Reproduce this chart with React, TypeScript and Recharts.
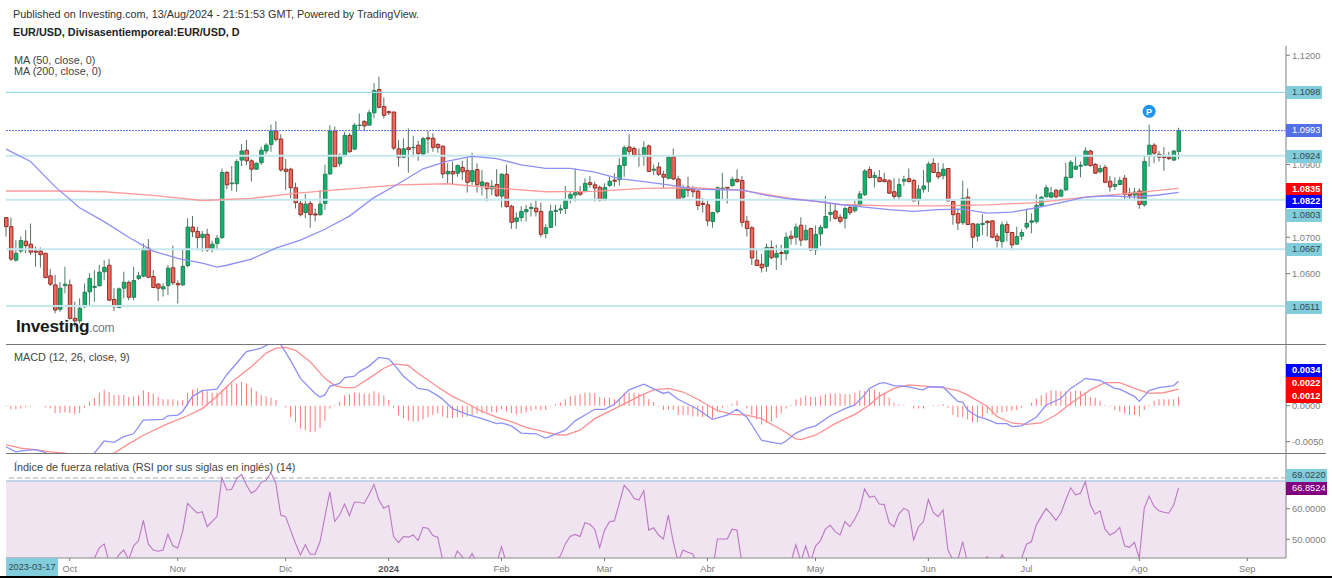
import React from 'react';
import {
    Bar,
    Cell,
    ComposedChart,
    Line,
    ReferenceArea,
    ReferenceDot,
    ReferenceLine,
    XAxis,
    YAxis,
} from 'recharts';

const FONT = '"Liberation Sans", Arial, sans-serif';
const WIDTH = 1332;
const X_DOMAIN: [number, number] = [0, 260.9];

// EUR/USD daily candles
const opens = [
    1.0754,1.0729,1.0637,1.0662,1.0689,1.0681,1.0662,1.0662,1.0656,1.0594,
    1.0569,1.0502,1.0567,1.0569,1.0477,1.0470,1.0509,1.0550,1.0562,1.0567,
    1.0605,1.0623,1.0529,1.0507,1.0560,1.0576,1.0535,1.0587,1.0593,1.0670,
    1.0592,1.0571,1.0558,1.0567,1.0616,1.0573,1.0569,1.0622,1.0728,1.0716,
    1.0699,1.0708,1.0668,1.0683,1.0699,1.0878,1.0847,1.0847,1.0912,1.0939,
    1.0910,1.0887,1.0905,1.0937,1.0955,1.0992,1.0970,1.0887,1.0887,1.0836,
    1.0793,1.0768,1.0793,1.0764,1.0762,1.0793,1.0874,1.0992,1.0902,1.0923,
    1.0980,1.0942,1.1007,1.1018,1.1008,1.1042,1.1106,1.1059,1.1045,1.1044,
    1.0943,1.0920,1.0946,1.0946,1.0953,1.0929,1.0973,1.0972,1.0955,1.0950,
    1.0874,1.0881,1.0876,1.0892,1.0883,1.0853,1.0886,1.0842,1.0849,1.0833,
    1.0845,1.0813,1.0873,1.0785,1.0743,1.0754,1.0770,1.0779,1.0780,1.0771,
    1.0710,1.0727,1.0771,1.0775,1.0779,1.0807,1.0816,1.0825,1.0826,1.0850,
    1.0844,1.0837,1.0803,1.0842,1.0857,1.0858,1.0897,1.0948,1.0944,1.0926,
    1.0923,1.0951,1.0884,1.0893,1.0873,1.0862,1.0921,1.0860,1.0810,1.0838,
    1.0833,1.0827,1.0793,1.0789,1.0743,1.0770,1.0833,1.0837,1.0842,1.0859,
    1.0856,1.0744,1.0726,1.0637,1.0626,1.0620,1.0672,1.0645,1.0658,1.0655,
    1.0703,1.0700,1.0733,1.0693,1.0724,1.0665,1.0709,1.0726,1.0763,1.0772,
    1.0755,1.0752,1.0782,1.0773,1.0789,1.0817,1.0886,1.0864,1.0864,1.0858,
    1.0855,1.0825,1.0812,1.0854,1.0861,1.0856,1.0802,1.0832,1.0852,1.0903,
    1.0878,1.0869,1.0889,1.0798,1.0765,1.0740,1.0810,1.0737,1.0703,1.0735,
    1.0744,1.0745,1.0703,1.0688,1.0735,1.0713,1.0681,1.0703,1.0728,1.0741,
    1.0743,1.0787,1.0811,1.0810,1.0829,1.0813,1.0830,1.0864,1.0887,1.0895,
    1.0898,1.0937,1.0900,1.0880,1.0892,1.0854,1.0840,1.0845,1.0862,1.0821,
    1.0816,1.0827,1.0789,1.0923,1.0953,1.0928,1.0921,1.0920,1.0912,1.0936,
];
const closes = [
    1.0729,1.0640,1.0656,1.0691,1.0677,1.0659,1.0659,1.0652,1.0589,1.0571,
    1.0500,1.0560,1.0571,1.0477,1.0470,1.0505,1.0549,1.0587,1.0565,1.0604,
    1.0617,1.0527,1.0509,1.0558,1.0576,1.0535,1.0581,1.0594,1.0668,1.0590,
    1.0562,1.0560,1.0564,1.0615,1.0575,1.0569,1.0620,1.0728,1.0715,1.0699,
    1.0708,1.0665,1.0681,1.0697,1.0878,1.0844,1.0849,1.0908,1.0937,1.0910,
    1.0887,1.0903,1.0939,1.0953,1.0992,1.0969,1.0885,1.0881,1.0836,1.0795,
    1.0762,1.0791,1.0762,1.0761,1.0791,1.0873,1.0992,1.0894,1.0921,1.0980,
    1.0935,1.1008,1.1008,1.1006,1.1042,1.1103,1.1057,1.1035,1.1042,1.0945,
    1.0920,1.0943,1.0941,1.0947,1.0930,1.0971,1.0970,1.0947,1.0946,1.0874,
    1.0881,1.0874,1.0897,1.0880,1.0851,1.0883,1.0844,1.0852,1.0833,1.0840,
    1.0814,1.0873,1.0784,1.0741,1.0753,1.0771,1.0776,1.0782,1.0770,1.0708,
    1.0726,1.0771,1.0774,1.0778,1.0802,1.0818,1.0823,1.0818,1.0848,1.0845,
    1.0835,1.0802,1.0837,1.0854,1.0854,1.0897,1.0946,1.0936,1.0926,1.0924,
    1.0946,1.0881,1.0887,1.0873,1.0865,1.0920,1.0860,1.0804,1.0836,1.0829,
    1.0825,1.0787,1.0790,1.0745,1.0768,1.0836,1.0835,1.0835,1.0859,1.0853,
    1.0741,1.0724,1.0643,1.0622,1.0616,1.0672,1.0644,1.0655,1.0655,1.0700,
    1.0697,1.0728,1.0692,1.0719,1.0665,1.0708,1.0727,1.0757,1.0768,1.0752,
    1.0744,1.0779,1.0768,1.0789,1.0819,1.0882,1.0864,1.0870,1.0853,1.0853,
    1.0821,1.0812,1.0845,1.0859,1.0853,1.0800,1.0832,1.0841,1.0901,1.0878,
    1.0866,1.0887,1.0800,1.0762,1.0739,1.0807,1.0735,1.0700,1.0736,1.0738,
    1.0740,1.0700,1.0691,1.0734,1.0713,1.0679,1.0702,1.0713,1.0738,1.0745,
    1.0787,1.0810,1.0836,1.0822,1.0811,1.0829,1.0865,1.0906,1.0895,1.0898,
    1.0937,1.0897,1.0876,1.0889,1.0851,1.0838,1.0845,1.0856,1.0818,1.0815,
    1.0824,1.0790,1.0908,1.0953,1.0931,1.0920,1.0919,1.0916,1.0937,1.0993,
];
const highs = [
    1.0754,1.0754,1.0692,1.0702,1.0720,1.0738,1.0674,1.0672,1.0656,1.0613,
    1.0596,1.0578,1.0619,1.0584,1.0523,1.0532,1.0573,1.0601,1.0610,1.0624,
    1.0637,1.0640,1.0560,1.0562,1.0605,1.0581,1.0619,1.0605,1.0683,1.0695,
    1.0610,1.0575,1.0573,1.0624,1.0677,1.0582,1.0667,1.0752,1.0758,1.0729,
    1.0717,1.0723,1.0690,1.0706,1.0889,1.0882,1.0896,1.0914,1.0956,1.0967,
    1.0914,1.0906,1.0949,1.0958,1.1010,1.1019,1.0983,1.0915,1.0891,1.0850,
    1.0804,1.0819,1.0800,1.0779,1.0830,1.0899,1.1008,1.1004,1.0931,1.0990,
    1.0986,1.1013,1.1040,1.1022,1.1050,1.1123,1.1141,1.1084,1.1048,1.1045,
    1.0967,1.0972,1.0999,1.0979,1.0965,1.0976,1.0992,1.0986,1.0958,1.0953,
    1.0903,1.0908,1.0900,1.0910,1.0917,1.0932,1.0903,1.0885,1.0851,1.0857,
    1.0887,1.0876,1.0899,1.0789,1.0768,1.0786,1.0789,1.0795,1.0802,1.0795,
    1.0736,1.0789,1.0789,1.0789,1.0841,1.0828,1.0889,1.0841,1.0862,1.0868,
    1.0853,1.0842,1.0848,1.0866,1.0876,1.0917,1.0953,1.0983,1.0949,1.0944,
    1.0964,1.0955,1.0900,1.0906,1.0883,1.0923,1.0944,1.0869,1.0844,1.0866,
    1.0841,1.0830,1.0807,1.0800,1.0770,1.0839,1.0877,1.0837,1.0866,1.0887,
    1.0868,1.0758,1.0730,1.0668,1.0654,1.0683,1.0691,1.0680,1.0679,1.0713,
    1.0718,1.0738,1.0755,1.0734,1.0726,1.0732,1.0734,1.0814,1.0791,1.0790,
    1.0764,1.0784,1.0789,1.0800,1.0827,1.0887,1.0894,1.0880,1.0885,1.0877,
    1.0860,1.0862,1.0862,1.0869,1.0889,1.0860,1.0844,1.0885,1.0908,1.0917,
    1.0905,1.0903,1.0889,1.0800,1.0779,1.0855,1.0834,1.0738,1.0738,1.0764,
    1.0747,1.0747,1.0711,1.0743,1.0743,1.0715,1.0729,1.0722,1.0778,1.0766,
    1.0818,1.0813,1.0844,1.0839,1.0833,1.0833,1.0905,1.0912,1.0924,1.0908,
    1.0947,1.0940,1.0905,1.0899,1.0899,1.0868,1.0865,1.0866,1.0871,1.0836,
    1.0836,1.0834,1.0926,1.1010,1.0958,1.0937,1.0947,1.0935,1.0940,1.1001,
];
const lows = [
    1.0702,1.0635,1.0633,1.0656,1.0656,1.0651,1.0619,1.0617,1.0587,1.0566,
    1.0491,1.0495,1.0546,1.0474,1.0454,1.0463,1.0505,1.0509,1.0523,1.0564,
    1.0582,1.0526,1.0497,1.0505,1.0532,1.0527,1.0527,1.0582,1.0590,1.0587,
    1.0560,1.0525,1.0537,1.0541,1.0569,1.0518,1.0567,1.0617,1.0700,1.0665,
    1.0660,1.0660,1.0658,1.0667,1.0695,1.0832,1.0828,1.0825,1.0896,1.0898,
    1.0853,1.0885,1.0899,1.0929,1.0935,1.0963,1.0880,1.0830,1.0807,1.0779,
    1.0757,1.0752,1.0726,1.0743,1.0759,1.0775,1.0871,1.0892,1.0894,1.0921,
    1.0932,1.0940,1.0993,1.0992,1.1008,1.1027,1.1054,1.1027,1.1036,1.0940,
    1.0894,1.0917,1.0877,1.0920,1.0910,1.0923,1.0931,1.0935,1.0932,1.0862,
    1.0846,1.0846,1.0866,1.0857,1.0823,1.0844,1.0823,1.0815,1.0798,1.0816,
    1.0811,1.0782,1.0782,1.0723,1.0723,1.0743,1.0743,1.0757,1.0757,1.0700,
    1.0697,1.0727,1.0731,1.0764,1.0764,1.0793,1.0798,1.0813,1.0823,1.0837,
    1.0798,1.0798,1.0800,1.0839,1.0839,1.0842,1.0866,1.0923,1.0920,1.0894,
    1.0896,1.0879,1.0871,1.0868,1.0834,1.0859,1.0857,1.0802,1.0804,1.0811,
    1.0810,1.0775,1.0768,1.0731,1.0726,1.0766,1.0804,1.0793,1.0839,1.0850,
    1.0729,1.0702,1.0624,1.0621,1.0603,1.0605,1.0640,1.0610,1.0624,1.0637,
    1.0679,1.0679,1.0676,1.0691,1.0662,1.0651,1.0676,1.0724,1.0743,1.0749,
    1.0738,1.0724,1.0761,1.0768,1.0784,1.0813,1.0862,1.0837,1.0851,1.0851,
    1.0819,1.0805,1.0805,1.0841,1.0850,1.0798,1.0787,1.0822,1.0825,1.0877,
    1.0860,1.0859,1.0798,1.0734,1.0720,1.0734,1.0734,1.0670,1.0688,1.0706,
    1.0702,1.0697,1.0672,1.0671,1.0688,1.0667,1.0679,1.0692,1.0722,1.0711,
    1.0738,1.0784,1.0810,1.0807,1.0807,1.0811,1.0828,1.0862,1.0885,1.0865,
    1.0896,1.0894,1.0874,1.0876,1.0848,1.0825,1.0830,1.0844,1.0804,1.0802,
    1.0800,1.0778,1.0784,1.0894,1.0903,1.0908,1.0883,1.0912,1.0910,1.0914,
];

// moving averages, read at the bar numbers in the *Bars arrays
const ma50Bars = [0,5,10,15,20,25,30,35,40,43,45,50,55,60,65,70,75,80,85,90,95,100,105,110,115,120,125,130,135,140,145,150,155,160,165,170,175,180,185,190,195,200,205,210,215,220,225,230,235,239];
const ma50 = [1.0942,1.0908,1.0839,1.0781,1.0743,1.0700,1.0662,1.0642,1.0629,1.0618,1.0623,1.0640,1.0670,1.0692,1.0722,1.0758,1.0809,1.0847,1.0888,1.0909,1.0922,1.0916,1.0899,1.0889,1.0889,1.0879,1.0861,1.0853,1.0844,1.0833,1.0830,1.0830,1.0815,1.0805,1.0799,1.0790,1.0783,1.0776,1.0771,1.0776,1.0777,1.0766,1.0769,1.0781,1.0795,1.0810,1.0814,1.0810,1.0816,1.0823];
const ma200Bars = [0,10,20,30,40,50,60,70,80,90,100,110,120,130,140,150,160,170,180,190,200,210,220,230,239];
const ma200 = [1.0827,1.0827,1.0825,1.0815,1.0801,1.0807,1.0822,1.0833,1.0844,1.0847,1.0835,1.0825,1.0826,1.0834,1.0836,1.0829,1.0807,1.0790,1.0786,1.0786,1.0789,1.0795,1.0810,1.0822,1.0834];

// MACD (12, 26, close, 9)
const macdBars = [
    0,2,4,6,8,10,13,17,18,20,22,24,26,28,32,33,35,36,38,40,43,45,47,49,52,54,56,58,60,63,64,65,66,68,69,71,72,74,76,78,79,81,84,86,88,
    89,91,94,97,100,101,103,105,108,110,114,116,120,122,124,127,130,134,135,137,141,144,147,149,151,154,157,158,159,161,163,165,168,171,173,175,176,178,
    179,181,183,184,186,187,188,191,194,195,196,198,200,202,204,205,207,210,212,215,217,219,220,223,226,227,230,231,233,235,238,239,
];
const macdLine = [
    -0.0057,-0.0064,-0.0062,-0.0061,-0.0065,-0.0072,-0.0078,-0.0069,-0.0066,-0.0049,-0.0051,-0.0043,-0.0039,-0.0020,-0.0019,-0.0014,-0.0013,-0.0008,0.0013,0.0021,0.0023,0.0043,0.0059,0.0075,0.0080,0.0087,0.0085,0.0063,0.0038,0.0017,0.0012,0.0015,0.0027,0.0031,0.0039,0.0041,0.0047,0.0055,0.0067,0.0065,0.0058,0.0041,0.0024,0.0022,0.0014,
    0.0009,-0.0004,-0.0012,-0.0018,-0.0025,-0.0024,-0.0028,-0.0038,-0.0039,-0.0045,-0.0034,-0.0021,-0.0005,-0.0005,0.0002,0.0022,0.0030,0.0017,0.0019,0.0009,-0.0005,-0.0019,-0.0013,-0.0005,-0.0016,-0.0048,-0.0052,-0.0053,-0.0049,-0.0038,-0.0032,-0.0028,-0.0014,-0.0004,0.0001,0.0015,0.0024,0.0031,
    0.0032,0.0028,0.0027,0.0026,0.0023,0.0022,0.0026,0.0026,0.0006,0.0005,-0.0006,-0.0015,-0.0019,-0.0025,-0.0025,-0.0029,-0.0028,-0.0016,0.0001,0.0010,0.0024,0.0033,0.0038,0.0035,0.0024,0.0023,0.0013,0.0006,0.0021,0.0025,0.0028,0.0034,
];
const signalBars = [
    0,3,6,9,12,16,22,25,28,33,37,40,43,46,50,53,55,57,59,62,65,67,69,71,74,77,79,82,84,88,
    91,94,97,100,103,106,109,112,114,117,120,125,129,132,135,138,141,145,148,151,154,158,161,162,165,169,173,176,178,
    181,184,186,191,194,196,200,202,205,208,211,214,217,221,224,227,230,233,236,239,
];
const signalLine = [
    -0.0054,-0.0059,-0.0061,-0.0064,-0.0066,-0.0072,-0.0066,-0.0053,-0.0041,-0.0025,-0.0014,-0.0004,0.0013,0.0033,0.0054,0.0073,0.0080,0.0081,0.0077,0.0061,0.0038,0.0028,0.0025,0.0025,0.0038,0.0052,0.0058,0.0056,0.0045,0.0026,
    0.0013,0.0003,-0.0008,-0.0016,-0.0022,-0.0030,-0.0035,-0.0040,-0.0041,-0.0034,-0.0018,-0.0001,0.0013,0.0022,0.0024,0.0019,0.0009,-0.0007,-0.0012,-0.0013,-0.0018,-0.0033,-0.0046,-0.0047,-0.0041,-0.0025,-0.0012,0.0001,0.0013,
    0.0024,0.0029,0.0028,0.0025,0.0021,0.0015,-0.0001,-0.0015,-0.0024,-0.0026,-0.0024,-0.0013,0.0003,0.0022,0.0032,0.0032,0.0024,0.0017,0.0018,0.0023,
];
const macdHist = [
    -0.0001,-0.0005,-0.0005,-0.0004,-0.0002,-0.0001,0,0,-0.0002,-0.0004,
    -0.0010,-0.0010,-0.0009,-0.0010,-0.0012,-0.0010,-0.0003,0.0006,0.0011,0.0018,
    0.0022,0.0019,0.0015,0.0015,0.0015,0.0012,0.0013,0.0014,0.0021,0.0019,
    0.0017,0.0012,0.0009,0.0009,0.0009,0.0007,0.0008,0.0018,0.0022,0.0024,
    0.0022,0.0020,0.0018,0.0018,0.0022,0.0027,0.0031,0.0031,0.0033,0.0031,
    0.0025,0.0020,0.0015,0.0013,0.0011,0.0008,0,-0.0002,-0.0016,-0.0023,
    -0.0032,-0.0034,-0.0037,-0.0036,-0.0031,-0.0021,-0.0004,0.0001,0.0006,0.0014,
    0.0016,0.0018,0.0018,0.0017,0.0017,0.0020,0.0018,0.0014,0.0008,-0.0003,
    -0.0013,-0.0017,-0.0021,-0.0022,-0.0022,-0.0019,-0.0016,-0.0013,-0.0011,-0.0015,
    -0.0017,-0.0017,-0.0016,-0.0016,-0.0015,-0.0013,-0.0011,-0.0010,-0.0009,-0.0009,
    -0.0009,-0.0005,-0.0008,-0.0010,-0.0012,-0.0011,-0.0009,-0.0007,-0.0005,-0.0006,
    -0.0006,-0.0001,0.0002,0.0004,0.0009,0.0013,0.0014,0.0016,0.0018,0.0018,
    0.0018,0.0012,0.0011,0.0011,0.0009,0.0011,0.0018,0.0018,0.0018,0.0017,
    0.0015,0.0009,0.0005,-0.0001,-0.0006,-0.0006,-0.0006,-0.0013,-0.0013,-0.0013,
    -0.0015,-0.0015,-0.0016,-0.0016,-0.0017,-0.0008,-0.0003,-0.0001,0.0002,0.0007,
    0,-0.0004,-0.0013,-0.0019,-0.0026,-0.0024,-0.0022,-0.0017,-0.0011,-0.0004,
    0.0001,0.0009,0.0011,0.0014,0.0012,0.0012,0.0013,0.0016,0.0017,0.0017,
    0.0017,0.0016,0.0016,0.0018,0.0021,0.0020,0.0022,0.0022,0.0019,0.0018,
    0.0011,0.0004,0.0002,0.0001,0,-0.0004,-0.0004,-0.0004,0,0.0001,
    0.0001,0.0002,-0.0003,-0.0013,-0.0016,-0.0016,-0.0019,-0.0023,-0.0023,-0.0016,
    -0.0011,-0.0013,-0.0011,-0.0009,-0.0008,-0.0007,-0.0006,-0.0003,0,0.0004,
    0.0010,0.0015,0.0018,0.0021,0.0021,0.0020,0.0020,0.0020,0.0021,0.0020,
    0.0018,0.0012,0.0011,0.0007,0.0001,-0.0001,-0.0006,-0.0008,-0.0011,-0.0013,
    -0.0013,-0.0015,-0.0006,0.0001,0.0007,0.0009,0.0009,0.0009,0.0009,0.0012,
];

// RSI (14); where it runs under the panel the values are only estimates
const rsi = [
    40.5,38.2,39.9,42.1,41.5,40.3,40.1,39.8,36.9,35.8,
    32.9,35.2,36.1,32.2,31.4,35.1,39.5,43.8,43.8,47.1,
    48.5,42.7,42.2,44.9,46.5,43.3,47.9,49.5,56.2,48.5,
    46.5,46.1,46.5,51.6,47.9,47.2,52.5,61.7,60.1,58.5,
    59.0,54.1,55.8,57.4,70.1,66.1,66.3,69.7,71.2,67.7,
    65.0,66.1,68.5,69.3,71.7,68.3,57.9,57.4,53.0,48.7,
    44.9,48.2,45.1,45.1,49.2,57.4,65.5,55.8,57.9,61.5,
    57.7,62.1,62.1,61.7,64.5,67.9,62.8,60.1,61.0,50.9,
    48.9,50.9,50.7,51.4,49.6,53.9,53.6,51.2,50.7,43.3,
    41.1,42.2,46.2,44.3,42.7,45.4,42.2,41.1,40.0,42.2,
    42.2,47.6,42.2,41.5,40.8,38.9,38.2,37.4,37.9,37.1,
    36.4,39.6,43.3,44.6,48.5,50.9,51.6,50.9,55.4,54.9,
    53.3,47.3,53.0,55.7,56.0,61.7,67.6,65.9,63.4,62.8,
    65.8,53.0,53.8,51.4,50.1,57.9,49.2,42.7,46.5,45.8,
    45.2,41.1,41.3,38.2,39.8,50.1,50.1,50.1,53.3,53.0,
    42.2,40.7,34.9,33.2,32.8,37.9,36.2,37.1,36.9,40.8,
    42.7,48.2,42.7,47.8,42.7,47.8,49.5,53.3,54.6,52.5,
    51.4,55.8,54.1,56.6,59.8,66.4,63.7,64.1,61.5,61.4,
    55.4,54.1,58.3,60.1,59.3,49.8,54.1,55.8,63.0,58.8,
    57.4,59.6,46.5,43.3,43.3,49.2,42.2,41.1,41.1,42.2,
    44.3,41.6,41.1,44.9,42.7,41.1,41.1,43.8,48.4,49.2,
    54.7,57.4,60.1,58.3,56.2,58.5,62.8,66.8,64.5,65.0,
    68.8,61.4,58.2,59.3,53.3,51.4,52.2,53.9,47.9,47.4,
    49.0,43.8,60.1,64.1,60.7,59.3,58.8,58.5,61.2,66.8,
];

const monthBars = [13, 35, 57, 78, 101, 122, 143, 165, 188, 208, 231, 253];
const monthLabels = ['Oct', 'Nov', 'Dic', '2024', 'Feb', 'Mar', 'Abr', 'May', 'Jun', 'Jul', 'Ago', 'Sep'];

// the other round prices sit under the level tags in the picture
const priceTicks = [1.12, 1.09, 1.07, 1.06];
const macdTicks = [0, -0.005];
const rsiTicks = [50, 60];

const lookup = (bars: number[], vals: number[], bar: number) => {
    const at = bars.indexOf(bar);
    return at < 0 ? null : vals[at];
};

const priceRows = opens.map((open, i) => ({
    i,
    body: [Math.min(open, closes[i]), Math.max(open, closes[i])],
    wick: [lows[i], highs[i]],
    up: closes[i] >= open,
    ma50: lookup(ma50Bars, ma50, i),
    ma200: lookup(ma200Bars, ma200, i),
}));

const macdRows = macdHist.map((hist, i) => ({
    i,
    hist,
    macd: lookup(macdBars, macdLine, i),
    signal: lookup(signalBars, signalLine, i),
}));

const rsiRows = rsi.map((value, i) => ({ i, value }));

const axisTick = { fontSize: 9.3, fill: '#7d7d7d', fontFamily: FONT };
const axisLine = { stroke: '#a8a8a8', strokeWidth: 1.5 };
const tickLine = { stroke: '#777' };

const MonthTick = ({ x, y, payload }: any) => {
    const at = monthBars.indexOf(payload.value);
    const isYear = monthLabels[at] === '2024';
    return (
        <text
            x={x}
            y={y + 9}
            textAnchor="middle"
            fontFamily={FONT}
            fontSize={9.3}
            fontWeight={isYear ? 'bold' : 'normal'}
            fill={isYear ? '#555' : '#7d7d7d'}
        >
            {monthLabels[at]}
        </text>
    );
};

const Tag = ({ top, text, bg, color = '#fff', width = 36, bold = false }: any) => (
    <div
        style={{
            position: 'absolute',
            left: 1286,
            top,
            width: width - 6,
            height: 13,
            paddingLeft: 6,
            background: bg,
            color,
            fontFamily: FONT,
            fontSize: 9.3,
            fontWeight: bold ? 'bold' : 'normal',
            lineHeight: '13px',
            whiteSpace: 'nowrap',
        }}
    >
        {text}
    </div>
);

const Note = ({ left, top, children, ...rest }: any) => (
    <div
        style={{
            position: 'absolute',
            left,
            top,
            whiteSpace: 'nowrap',
            fontFamily: FONT,
            fontSize: 10.85,
            lineHeight: '12px',
            color: '#333',
            ...rest,
        }}
    >
        {children}
    </div>
);

const Rule = ({ top, left = 6, right = 1326 }: any) => (
    <div style={{ position: 'absolute', left, top, width: right - left, height: 1, background: '#777' }} />
);

const Panel = ({ top, height, children }: any) => (
    <div style={{ position: 'absolute', left: 0, top }}>
        <ComposedChart width={WIDTH} height={height} margin={{ top: 0, right: 0, bottom: 0, left: 6 }} data={children.data}>
            {children.body}
        </ComposedChart>
    </div>
);

export default function App() {
    return (
        <div style={{ position: 'absolute', left: 0, top: 0, width: WIDTH, height: 578, background: '#fff', overflow: 'hidden' }}>
            <Note left={13} top={8}>Published on Investing.com, 13/Aug/2024 - 21:51:53 GMT, Powered by TradingView.</Note>
            <Note left={13} top={26} fontWeight="bold" color="#222">EUR/USD, Divisasentiemporeal:EUR/USD, D</Note>

            <Panel top={46} height={298}>
                {{
                    data: priceRows,
                    body: [
                        <XAxis key="x" dataKey="i" type="number" domain={X_DOMAIN} hide />,
                        <XAxis key="xw" xAxisId="w" dataKey="i" type="number" domain={X_DOMAIN} hide />,
                        <YAxis
                            key="y"
                            orientation="right"
                            width={46}
                            domain={[1.04066, 1.12255]}
                            allowDataOverflow
                            ticks={priceTicks}
                            interval={0}
                            tick={axisTick}
                            tickSize={4}
                            tickLine={tickLine}
                            axisLine={axisLine}
                            tickFormatter={(v: number) => v.toFixed(4)}
                        />,
                        <ReferenceLine key="r1" y={1.1098} stroke="#9ad8e6" strokeWidth={1.2} />,
                        <ReferenceLine key="r2" y={1.0924} stroke="#c2e8ee" strokeWidth={2} />,
                        <ReferenceLine key="r3" y={1.0803} stroke="#c2e8ee" strokeWidth={2} />,
                        <ReferenceLine key="r4" y={1.0667} stroke="#c2e8ee" strokeWidth={2} />,
                        <ReferenceLine key="r5" y={1.0511} stroke="#c2e8ee" strokeWidth={2} />,
                        <ReferenceLine key="r6" y={1.0993} stroke="#5a70f0" strokeDasharray="2 1" />,
                        <Bar key="wick" xAxisId="w" dataKey="wick" barSize={1} isAnimationActive={false}>
                            {priceRows.map((row) => (
                                <Cell key={row.i} fill={row.up ? '#4f7f68' : '#5d6f62'} />
                            ))}
                        </Bar>,
                        <Bar key="body" dataKey="body" barSize={3.5} isAnimationActive={false}>
                            {priceRows.map((row) => (
                                <Cell
                                    key={row.i}
                                    fill={row.up ? '#0cb46c' : '#f2685c'}
                                    stroke={row.up ? '#2a7d57' : '#8f2f28'}
                                    strokeWidth={1}
                                />
                            ))}
                        </Bar>,
                        <Line key="ma200" dataKey="ma200" stroke="#ff9a9a" strokeWidth={1.3} dot={false} connectNulls isAnimationActive={false} />,
                        <Line key="ma50" dataKey="ma50" stroke="#8f8ff8" strokeWidth={1.3} dot={false} connectNulls isAnimationActive={false} />,
                        <ReferenceDot
                            key="p"
                            x={233}
                            y={1.1046}
                            r={6.5}
                            fill="#1e96f0"
                            stroke="none"
                            label={{ value: 'P', fill: '#fff', fontSize: 9, fontWeight: 'bold', fontFamily: FONT, position: 'center' }}
                        />,
                    ],
                }}
            </Panel>

            <Panel top={345} height={108}>
                {{
                    data: macdRows,
                    body: [
                        <XAxis key="x" dataKey="i" type="number" domain={X_DOMAIN} hide />,
                        <YAxis
                            key="y"
                            orientation="right"
                            width={46}
                            domain={[-0.00657, 0.00843]}
                            allowDataOverflow
                            ticks={macdTicks}
                            interval={0}
                            tick={axisTick}
                            tickSize={4}
                            tickLine={tickLine}
                            axisLine={axisLine}
                            tickFormatter={(v: number) => v.toFixed(4)}
                        />,
                        <Bar key="hist" dataKey="hist" barSize={1} fill="#ff7878" isAnimationActive={false} />,
                        <Line key="signal" dataKey="signal" stroke="#ff8f8f" strokeWidth={1.3} dot={false} connectNulls isAnimationActive={false} />,
                        <Line key="macd" dataKey="macd" stroke="#8f8ff8" strokeWidth={1.3} dot={false} connectNulls isAnimationActive={false} />,
                    ],
                }}
            </Panel>

            <Panel top={453} height={125}>
                {{
                    data: rsiRows,
                    body: [
                        <XAxis
                            key="x"
                            dataKey="i"
                            type="number"
                            domain={X_DOMAIN}
                            height={20}
                            ticks={monthBars}
                            interval={0}
                            tick={<MonthTick />}
                            tickSize={3}
                            tickLine={tickLine}
                            axisLine={{ stroke: '#8a8a8a', strokeWidth: 1 }}
                        />,
                        <YAxis
                            key="y"
                            orientation="right"
                            width={46}
                            domain={[43.9, 78.15]}
                            allowDataOverflow
                            ticks={rsiTicks}
                            interval={0}
                            tick={axisTick}
                            tickSize={4}
                            tickLine={tickLine}
                            axisLine={axisLine}
                            tickFormatter={(v: number) => v.toFixed(4)}
                        />,
                        <ReferenceArea key="band" y1={43.9} y2={69.022} fill="#f0e4f1" fillOpacity={1} stroke="none" />,
                        <ReferenceLine key="top" y={69.022} stroke="#8fb6d8" />,
                        <ReferenceLine key="dash" y={70} stroke="#a9a9a9" strokeDasharray="5 3" />,
                        <Line key="rsi" dataKey="value" stroke="#bb77c4" strokeWidth={1.1} dot={false} isAnimationActive={false} />,
                    ],
                }}
            </Panel>

            <Rule top={344} />
            <Rule top={453} />

            <Note left={14} top={54} color="#444">MA (50, close, 0)</Note>
            <Note left={14} top={65} color="#444">MA (200, close, 0)</Note>
            <Note left={14} top={351} color="#444">MACD (12, 26, close, 9)</Note>
            <Note left={14} top={461} color="#444">Índice de fuerza relativa (RSI por sus siglas en inglés) (14)</Note>

            <Note left={16} top={316} fontSize={17.3} lineHeight="20px" fontWeight="bold" color="#1a1a1a" letterSpacing={-0.3}>
                Investing
                <span style={{ fontSize: 12, fontWeight: 'normal', color: '#777', letterSpacing: -0.2 }}>.com</span>
            </Note>

            <Tag top={86} text="1.1098" bg="#81cddb" color="#37474f" />
            <Tag top={124} text="1.0993" bg="#5470e6" />
            <Tag top={150} text="1.0924" bg="#81cddb" color="#37474f" />
            <Tag top={183} text="1.0835" bg="#ff0000" bold />
            <Tag top={195} text="1.0822" bg="#0000ff" bold />
            <Tag top={209} text="1.0803" bg="#81cddb" color="#37474f" />
            <Tag top={243} text="1.0667" bg="#81cddb" color="#37474f" />
            <Tag top={301} text="1.0511" bg="#81cddb" color="#37474f" />
            <Tag top={364} text="0.0034" bg="#0000ff" bold />
            <Tag top={377} text="0.0022" bg="#ff0000" bold />
            <Tag top={390} text="0.0012" bg="#ff0000" bold />
            <Tag top={469} text="69.0220" bg="#81cddb" color="#37474f" width={41} />
            <Tag top={482} text="66.8524" bg="#800080" width={41} />

            <div
                style={{
                    position: 'absolute',
                    left: 6,
                    top: 558,
                    width: 52,
                    height: 18,
                    background: '#81cddb',
                    color: '#37474f',
                    fontFamily: FONT,
                    fontSize: 9.2,
                    lineHeight: '18px',
                    textAlign: 'center',
                    whiteSpace: 'nowrap',
                }}
            >
                2023-03-17
            </div>
            <div style={{ position: 'absolute', left: 0, top: 576, width: WIDTH, height: 2, background: '#000' }} />
        </div>
    );
}
